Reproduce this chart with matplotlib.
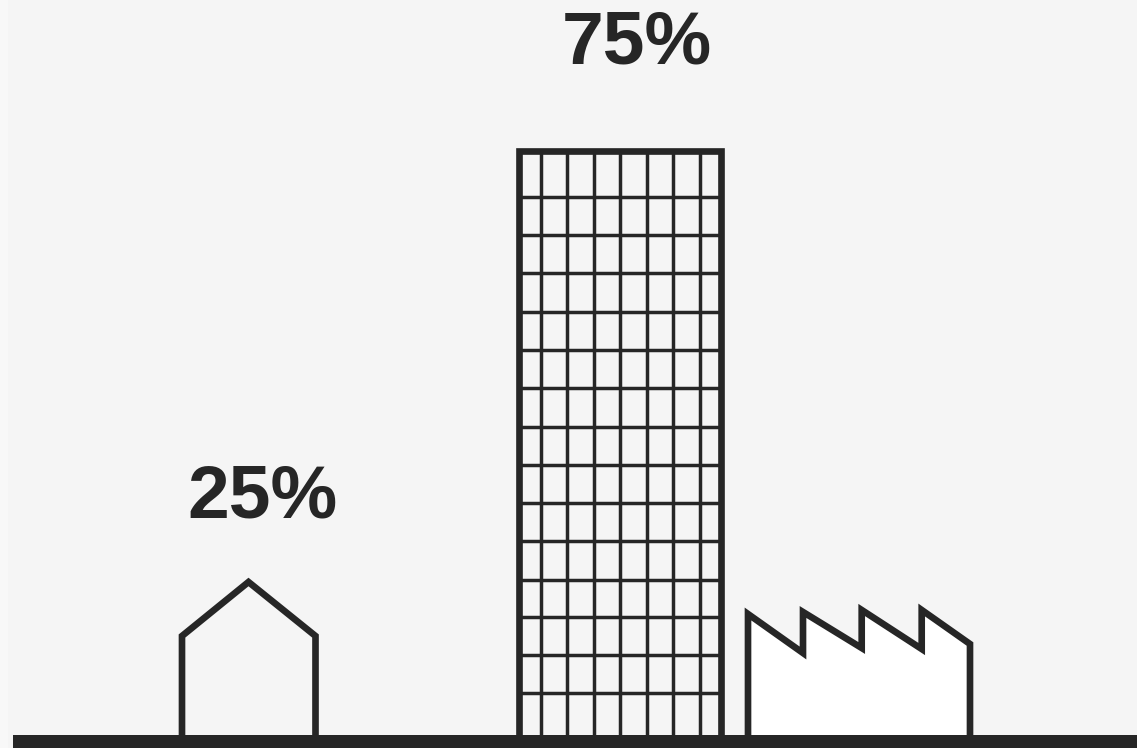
import matplotlib
matplotlib.use('Agg')
import matplotlib.pyplot as plt

labels = ['25%', '75%']
label_x = [263, 636.5]
label_y = [518, 63]

house_x = [182, 182, 248.5, 315.5, 315.5]
house_y = [735, 636, 582, 636, 735]

tower_left = 518.8
tower_right = 720.5
tower_top = 151
tower_bottom = 735
tower_vlines = [540.7, 567.3, 593.7, 620, 646.7, 673.3, 700]
tower_hlines = [196.5, 235, 273, 311.5, 350, 388, 426.5, 465, 503, 541, 579.5, 617, 654.5, 692.5]

factory_x = [748, 748, 803, 803, 861.7, 861.7, 921.7, 921.7, 970, 970]
factory_y = [735, 614, 653, 612, 648, 610, 649, 610, 644, 735]

ground_left = 13
ground_top = 735

dark = '#262626'
bg = '#f5f5f5'

fig = plt.figure(figsize=(11.37, 7.48), dpi=100, facecolor=bg)
ax = fig.add_axes([0, 0, 1, 1])
ax.set_xlim(0, 1137)
ax.set_ylim(748, 0)
ax.axis('off')

# faint lighter strip on the left edge
ax.fill_between([0, 8], 0, 748, color='#f8f8f8', lw=0)

# house
ax.plot(house_x, house_y, color=dark, lw=4.8, solid_joinstyle='miter', solid_capstyle='butt')

# tower grid then outline
ax.vlines(tower_vlines, tower_top, tower_bottom, color=dark, lw=2.5)
ax.hlines(tower_hlines, tower_left, tower_right, color=dark, lw=2.5)
ax.plot([tower_left, tower_left, tower_right, tower_right],
        [tower_bottom, tower_top, tower_top, tower_bottom],
        color=dark, lw=4.8, solid_joinstyle='miter', solid_capstyle='butt')

# factory
ax.fill(factory_x, factory_y, facecolor='white', edgecolor='none')
ax.plot(factory_x, factory_y, color=dark, lw=4.8, solid_joinstyle='miter', solid_capstyle='butt')

# ground
ax.fill_between([ground_left, 1137], ground_top, 748, color=dark, lw=0)

for lab, x, y in zip(labels, label_x, label_y):
    ax.text(x, y, lab, ha='center', va='baseline', fontsize=54, fontweight='bold',
            family='Liberation Sans', color=dark)

fig.savefig('out.png', dpi=100, facecolor=bg)
